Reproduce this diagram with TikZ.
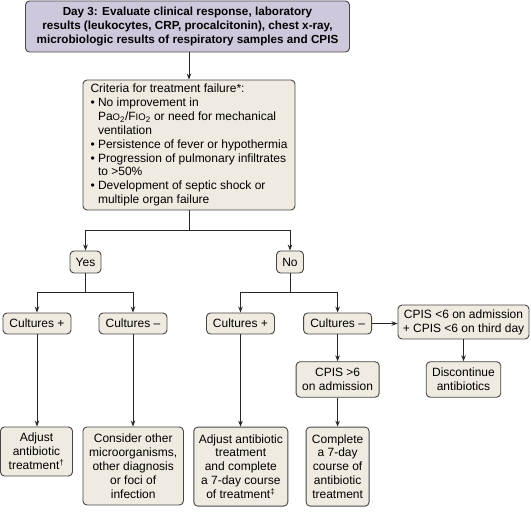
\documentclass[tikz,border=0pt]{standalone}
\usepackage{fontspec}
\setmainfont{Liberation Sans}
\usetikzlibrary{arrows.meta}
\definecolor{beige}{RGB}{239,235,225}
\definecolor{lav}{RGB}{207,200,220}
\definecolor{edge}{RGB}{70,70,70}
\newcommand{\smallo}[1]{{\fontsize{9.5}{9.5}\selectfont #1}}
\tikzset{
  box/.style={draw=edge, fill=beige, rounded corners=4pt, line width=0.9pt, align=center,
    inner sep=1pt, font=\fontsize{12}{13.9}\selectfont},
  topbox/.style={box, fill=lav, font=\fontsize{11.7}{14}\selectfont\bfseries},
  arr/.style={draw=black!85, line width=1pt, -{Stealth[length=6pt,width=4.5pt]}},
  ln/.style={draw=black!85, line width=1pt}
}
\begin{document}
\begin{tikzpicture}[x=1pt,y=-1pt]
\useasboundingbox (0,0) rectangle (531,513);
\node[topbox, minimum width=324pt, minimum height=51pt] (top) at (187.5,26.5)
  {Day 3: Evaluate clinical response, laboratory\\results (leukocytes, CRP, procalcitonin), chest x-ray,\\microbiologic results of respiratory samples and CPIS};
\node[box, align=left, minimum width=212pt, minimum height=130pt] (crit) at (189,145)
  {Criteria for treatment failure*:\\
   \textbullet\ No improvement in\\
   \phantom{\textbullet\ }Pa\smallo{O}\textsubscript{2}/F\smallo{IO}\textsubscript{2} or need for mechanical\\
   \phantom{\textbullet\ }ventilation\\
   \textbullet\ Persistence of fever or hypothermia\\
   \textbullet\ Progression of pulmonary infiltrates\\
   \phantom{\textbullet\ }to >50\%\\
   \textbullet\ Development of septic shock or\\
   \phantom{\textbullet\ }multiple organ failure};
\node[box, minimum width=31pt, minimum height=22pt] (yes) at (85.5,262) {Yes};
\node[box, minimum width=27pt, minimum height=22pt] (no) at (290,262) {No};
\node[box, minimum width=68pt, minimum height=21pt] (cpl) at (37,323.5) {Cultures +};
\node[box, minimum width=68pt, minimum height=21pt] (cml) at (133,323.5) {Cultures –};
\node[box, minimum width=68pt, minimum height=21pt] (cpm) at (240.5,323.5) {Cultures +};
\node[box, minimum width=68pt, minimum height=21pt] (cmm) at (337.6,323.5) {Cultures –};
\node[box, minimum width=131pt, minimum height=34pt] (lt) at (463.5,322) {CPIS <6 on admission\\+ CPIS <6 on third day};
\node[box, minimum width=74.5pt, minimum height=35.5pt] (disc) at (463.5,379.5) {Discontinue\\antibiotics};
\node[box, minimum width=83pt, minimum height=35.5pt] (gt) at (337.6,379.5) {CPIS >6\\on admission};
\node[box, minimum width=72pt, minimum height=49pt] (adj) at (36.5,451.5) {Adjust\\antibiotic\\treatment\textsuperscript{†}};
\node[box, minimum width=100.5pt, minimum height=78pt] (cons) at (133.2,466) {Consider other\\microorganisms,\\other diagnosis\\or foci of\\infection};
\node[box, minimum width=94pt, minimum height=79pt] (adjc) at (240.8,466.6) {Adjust antibiotic\\treatment\\and complete\\a 7-day course\\of treatment\textsuperscript{‡}};
\node[box, minimum width=63pt, minimum height=79pt] (comp) at (337.6,466.6) {Complete\\a 7-day\\course of\\antibiotic\\treatment};
% connectors
\draw[arr] (top.south -| crit.north) -- (crit.north);
\draw[arr] (crit.south) -- ++(0,20) -| (yes.north);
\draw[arr] (crit.south) -- ++(0,20) -| (no.north);
\draw[arr] (yes.south) -- ++(0,19) -| (cpl.north);
\draw[arr] (yes.south) -- ++(0,19) -| (cml.north);
\draw[arr] (no.south) -- ++(0,19) -| (cpm.north);
\draw[arr] (no.south) -- ++(0,19) -| (cmm.north);
\draw[arr] (cpl.south) -- (cpl.south |- adj.north);
\draw[arr] (cml.south) -- (cml.south |- cons.north);
\draw[arr] (cpm.south) -- (cpm.south |- adjc.north);
\draw[arr] (cmm.south) -- (gt.north);
\draw[arr] (gt.south) -- (comp.north);
\draw[arr] (cmm.east) -- (cmm.east -| lt.west);
\draw[arr] (lt.south) -- (disc.north);
\end{tikzpicture}
\end{document}
